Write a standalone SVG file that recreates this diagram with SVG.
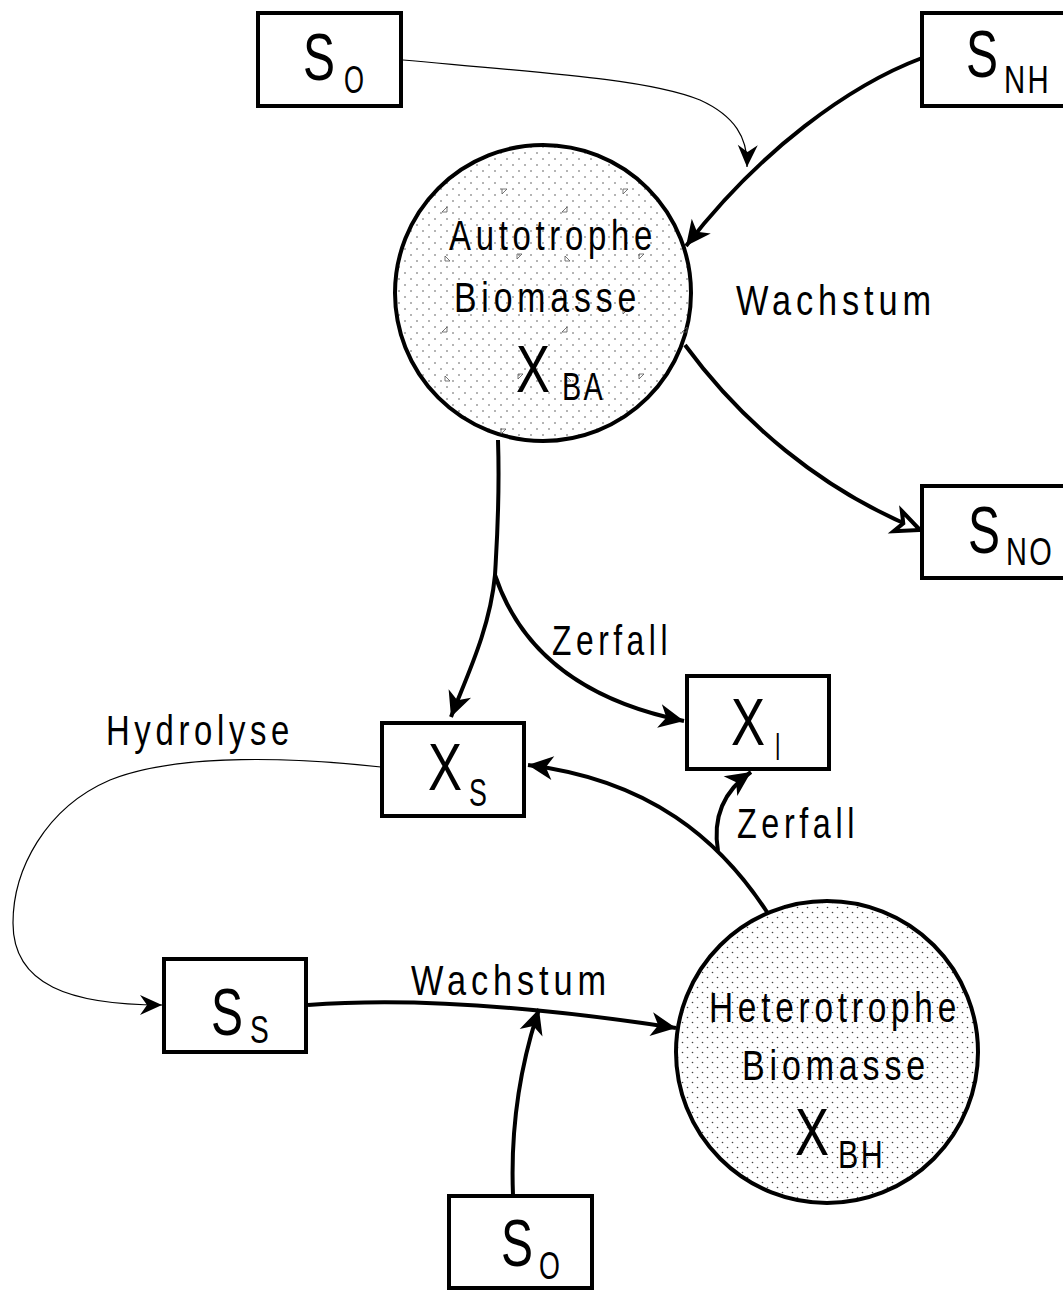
<svg xmlns="http://www.w3.org/2000/svg" width="1063" height="1290" viewBox="0 0 1063 1290">
<style>
.box{fill:#fff;stroke:#000;stroke-width:4}
.bio{stroke:#000;stroke-width:4}
.t{font-family:"Liberation Sans",Arial,sans-serif;fill:#000}
.lbl{font-size:42px;letter-spacing:6px}
.big{font-size:66px}
.sub{font-size:38px;letter-spacing:3px}
.thick{fill:none;stroke:#000;stroke-width:4}
.thin{fill:none;stroke:#000;stroke-width:1.2}
.tri{fill:none;stroke:#555;stroke-width:0.8}
</style>
<defs>
<pattern id="dotsA" width="12" height="12" patternUnits="userSpaceOnUse">
<rect width="12" height="12" fill="#fff"/>
<circle cx="3" cy="3" r="0.8" fill="#555"/>
<circle cx="9" cy="9" r="0.8" fill="#555"/>
</pattern>
<pattern id="dotsH" width="10" height="10" patternUnits="userSpaceOnUse">
<rect width="10" height="10" fill="#fff"/>
<circle cx="2.5" cy="2.5" r="0.8" fill="#444"/>
<circle cx="7.5" cy="7.5" r="0.8" fill="#444"/>
</pattern>
<marker id="ah" viewBox="-27 -14 30 28" refX="0" refY="0" markerWidth="30" markerHeight="28" markerUnits="userSpaceOnUse" orient="auto">
<path d="M0,0 L-25,-12 L-18,0 L-25,12 Z" fill="#000"/>
</marker>
<marker id="ahs" viewBox="-24 -12 26 24" refX="0" refY="0" markerWidth="26" markerHeight="24" markerUnits="userSpaceOnUse" orient="auto">
<path d="M0,0 L-22,-10 L-15,0 L-22,10 Z" fill="#000"/>
</marker>
<marker id="aho" viewBox="-30 -16 34 32" refX="0" refY="0" markerWidth="34" markerHeight="32" markerUnits="userSpaceOnUse" orient="auto">
<path d="M0,0 L-24,-11 L-18,0 L-24,11 Z" fill="#fff" stroke="#000" stroke-width="4" stroke-linejoin="miter"/>
</marker>
</defs>

<g id="connectors">
<path class="thin" d="M403,60 C 560,74 650,80 700,100 C 735,116 748,138 747,167" marker-end="url(#ahs)"/>
<path class="thick" d="M922,58 C 850,85 760,150 686,246" marker-end="url(#ah)"/>
<path class="thick" d="M685,345 C 740,420 820,490 920,530" marker-end="url(#aho)"/>
<path class="thick" d="M498,440 C 500,500 497,540 495,575"/>
<path class="thick" d="M495,575 C 490,630 465,680 451,717" marker-end="url(#ah)"/>
<path class="thick" d="M495,575 C 520,650 580,700 684,721" marker-end="url(#ah)"/>
<path class="thick" d="M767,912 C 720,840 650,780 528,765" marker-end="url(#ah)"/>
<path class="thick" d="M718,851 C 712,815 725,790 751,772" marker-end="url(#ah)"/>
<path class="thin" d="M381,767 C 300,758 180,752 110,780 C 45,808 13,870 13,923 C 13,985 70,1005 162,1005" marker-end="url(#ahs)"/>
<path class="thick" d="M308,1005 C 400,998 520,1004 676,1028" marker-end="url(#ah)"/>
<path class="thick" d="M513,1195 C 510,1120 522,1060 539,1009" marker-end="url(#ah)"/>
</g>

<g id="node-SO-top">
<rect class="box" x="258" y="13" width="143" height="93"/>
<text class="t big" x="303" y="80" textLength="32" lengthAdjust="spacingAndGlyphs">S</text>
<text class="t sub" x="344" y="93" textLength="22" lengthAdjust="spacingAndGlyphs">O</text>
</g>

<g id="node-SNH">
<rect class="box" x="922" y="13" width="160" height="93"/>
<text class="t big" x="966" y="77" textLength="32" lengthAdjust="spacingAndGlyphs">S</text>
<text class="t sub" x="1004" y="93" textLength="47" lengthAdjust="spacingAndGlyphs">NH</text>
</g>

<g id="node-XBA">
<circle class="bio" cx="543" cy="293" r="148" fill="url(#dotsA)"/>
<g class="tri">
<path d="M502,189 l5,0 l-5,5 z"/><path d="M623,189 l5,0 l-5,5 z"/>
<path d="M442,212 l5,-5 l0,5 z"/><path d="M562,212 l5,-5 l0,5 z"/>
<path d="M445,256 l0,5 l5,0 z"/><path d="M517,254 l5,0 l-5,5 z"/>
<path d="M565,256 l0,5 l5,0 z"/><path d="M639,254 l5,0 l-5,5 z"/>
<path d="M442,332 l5,-5 l0,5 z"/><path d="M562,332 l5,-5 l0,5 z"/><path d="M682,332 l5,-5 l0,5 z"/>
<path d="M445,376 l0,5 l5,0 z"/><path d="M518,374 l5,0 l-5,5 z"/>
<path d="M566,376 l0,5 l5,0 z"/><path d="M639,374 l5,0 l-5,5 z"/>
<path d="M501,429 l5,0 l-5,5 z"/><path d="M623,309 l5,0 l-5,5 z"/>
</g>
<text class="t lbl" x="449" y="250" textLength="208" lengthAdjust="spacingAndGlyphs">Autotrophe</text>
<text class="t lbl" x="454" y="312" textLength="187" lengthAdjust="spacingAndGlyphs">Biomasse</text>
<text class="t big" x="516" y="392" textLength="34" lengthAdjust="spacingAndGlyphs">X</text>
<text class="t sub" x="562" y="400" textLength="43" lengthAdjust="spacingAndGlyphs">BA</text>
</g>

<g id="label-wachstum-top">
<text class="t lbl" x="736" y="315" textLength="200" lengthAdjust="spacingAndGlyphs">Wachstum</text>
</g>

<g id="node-SNO">
<rect class="box" x="922" y="486" width="160" height="92"/>
<text class="t big" x="968" y="553" textLength="32" lengthAdjust="spacingAndGlyphs">S</text>
<text class="t sub" x="1006" y="565" textLength="48" lengthAdjust="spacingAndGlyphs">NO</text>
</g>

<g id="label-zerfall-1">
<text class="t lbl" x="552" y="655" textLength="120" lengthAdjust="spacingAndGlyphs">Zerfall</text>
</g>

<g id="node-XI">
<rect class="box" x="687" y="676" width="142" height="93"/>
<text class="t big" x="731" y="745" textLength="34" lengthAdjust="spacingAndGlyphs">X</text>
<text class="t sub" x="775" y="760" textLength="7" lengthAdjust="spacingAndGlyphs">I</text>
</g>

<g id="node-XS">
<rect class="box" x="382" y="723" width="142" height="93"/>
<text class="t big" x="428" y="790" textLength="34" lengthAdjust="spacingAndGlyphs">X</text>
<text class="t sub" x="469" y="806" textLength="20" lengthAdjust="spacingAndGlyphs">S</text>
</g>

<g id="label-hydrolyse">
<text class="t lbl" x="106" y="745" textLength="188" lengthAdjust="spacingAndGlyphs">Hydrolyse</text>
</g>

<g id="label-zerfall-2">
<text class="t lbl" x="737" y="838" textLength="122" lengthAdjust="spacingAndGlyphs">Zerfall</text>
</g>

<g id="node-SS">
<rect class="box" x="164" y="959" width="142" height="93"/>
<text class="t big" x="211" y="1035" textLength="32" lengthAdjust="spacingAndGlyphs">S</text>
<text class="t sub" x="250" y="1043" textLength="21" lengthAdjust="spacingAndGlyphs">S</text>
</g>

<g id="label-wachstum-bottom">
<text class="t lbl" x="411" y="995" textLength="200" lengthAdjust="spacingAndGlyphs">Wachstum</text>
</g>

<g id="node-XBH">
<circle class="bio" cx="827" cy="1052" r="151" fill="url(#dotsH)"/>
<text class="t lbl" x="709" y="1022" textLength="252" lengthAdjust="spacingAndGlyphs">Heterotrophe</text>
<text class="t lbl" x="742" y="1080" textLength="188" lengthAdjust="spacingAndGlyphs">Biomasse</text>
<text class="t big" x="795" y="1155" textLength="34" lengthAdjust="spacingAndGlyphs">X</text>
<text class="t sub" x="838" y="1168" textLength="47" lengthAdjust="spacingAndGlyphs">BH</text>
</g>

<g id="node-SO-bottom">
<rect class="box" x="449" y="1196" width="143" height="92"/>
<text class="t big" x="501" y="1266" textLength="32" lengthAdjust="spacingAndGlyphs">S</text>
<text class="t sub" x="539" y="1279" textLength="23" lengthAdjust="spacingAndGlyphs">O</text>
</g>
</svg>
